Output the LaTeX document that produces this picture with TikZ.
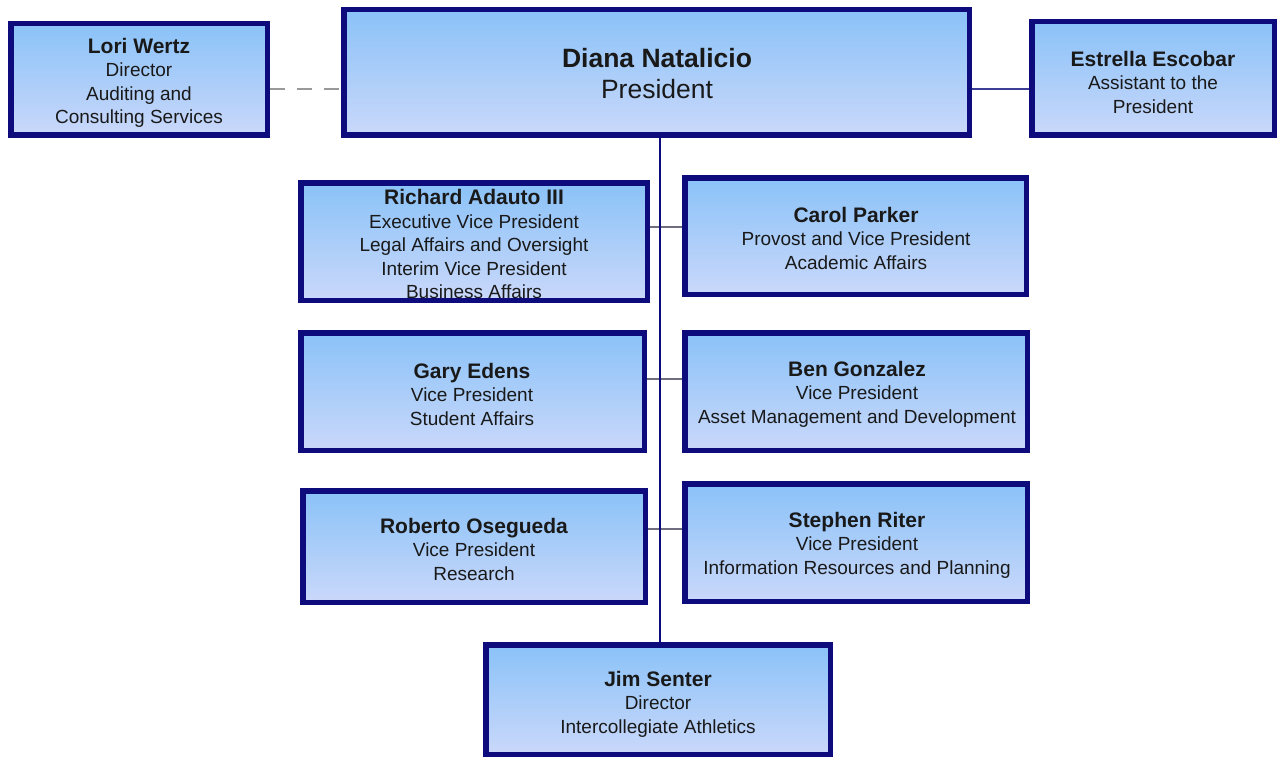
\documentclass[tikz,border=0pt]{standalone}
\usepackage{fontspec}
\setmainfont{Liberation Sans}
\definecolor{navy}{RGB}{14,12,124}
\definecolor{topblue}{RGB}{138,194,248}
\definecolor{botblue}{RGB}{202,216,250}
\definecolor{linegray}{RGB}{110,110,128}
\begin{document}
\begin{tikzpicture}[x=1pt,y=-1pt,
  box/.style={draw=navy,line width=5.5pt,top color=topblue,bottom color=botblue,anchor=north west,inner sep=0pt},
  txt/.style={align=center,font=\fontsize{19}{23.5}\selectfont,text=black!90},
  trunk/.style={draw=navy,line width=2.6pt},
  branch/.style={draw=linegray,line width=1.4pt},
  dashline/.style={draw=gray!80,line width=1.6pt,dash pattern=on 15pt off 12pt}]
\useasboundingbox (0,0) rectangle (1277,757);
\newcommand{\bx}[5]{\node[box,minimum width=#3-#1-5.5,minimum height=#4-#2-5.5] (#5) at (#1,#2) {};}
\newcommand{\nmtext}[1]{{\fontsize{21}{23.5}\selectfont\bfseries #1}}
\bx{8}{21}{270}{138}{lori}
\bx{341}{7}{972}{138}{pres}
\bx{1029}{19}{1277}{138}{estr}
\bx{298}{180}{650}{303}{rich}
\bx{682}{175}{1029}{297}{carol}
\bx{298}{330}{647}{453}{gary}
\bx{682}{330}{1030}{453}{ben}
\bx{300}{488}{648}{605}{rob}
\bx{682}{481}{1030}{604}{steph}
\bx{483}{642}{833}{757}{jim}
% connectors
\draw[dashline] (lori.east |- 0,89) -- (pres.west |- 0,89);
\draw[branch,draw=navy!80] (pres.east |- 0,89) -- (estr.west |- 0,89);
\draw[branch] (rich.east |- 0,227) -- (carol.west |- 0,227);
\draw[branch] (gary.east |- 0,379) -- (ben.west |- 0,379);
\draw[branch] (rob.east |- 0,529) -- (steph.west |- 0,529);
\coordinate (tt) at (pres.south -| 660,0);
\coordinate (tb) at (jim.north -| 660,0);
\draw[trunk] (tt) -- (tb);
% texts
\node[txt] (tlori) at (139,83) {\nmtext{Lori Wertz}\\Director\\Auditing and\\Consulting Services};
\node[txt,font=\fontsize{26.5}{31}\selectfont] (tpres) at (657,74) {\textbf{Diana Natalicio}\\President};
\node[txt] (testr) at (1153,82) {\nmtext{Estrella Escobar}\\Assistant to the\\President};
\node[txt] (trich) at (474,244) {\nmtext{Richard Adauto III}\\Executive Vice President\\Legal Affairs and Oversight\\Interim Vice President\\Business Affairs};
\node[txt] (tcarol) at (856,238) {\nmtext{Carol Parker}\\Provost and Vice President\\Academic Affairs};
\node[txt] (tgary) at (472,394) {\nmtext{Gary Edens}\\Vice President\\Student Affairs};
\node[txt] (tben) at (857,394) {\nmtext{Ben Gonzalez}\\Vice President\\Asset Management and Development};
\node[txt] (trob) at (474,549) {\nmtext{Roberto Osegueda}\\Vice President\\Research};
\node[txt] (tsteph) at (857,545) {\nmtext{Stephen Riter}\\Vice President\\Information Resources and Planning};
\node[txt] (tjim) at (658,704) {\nmtext{Jim Senter}\\Director\\Intercollegiate Athletics};
\end{tikzpicture}
\end{document}
